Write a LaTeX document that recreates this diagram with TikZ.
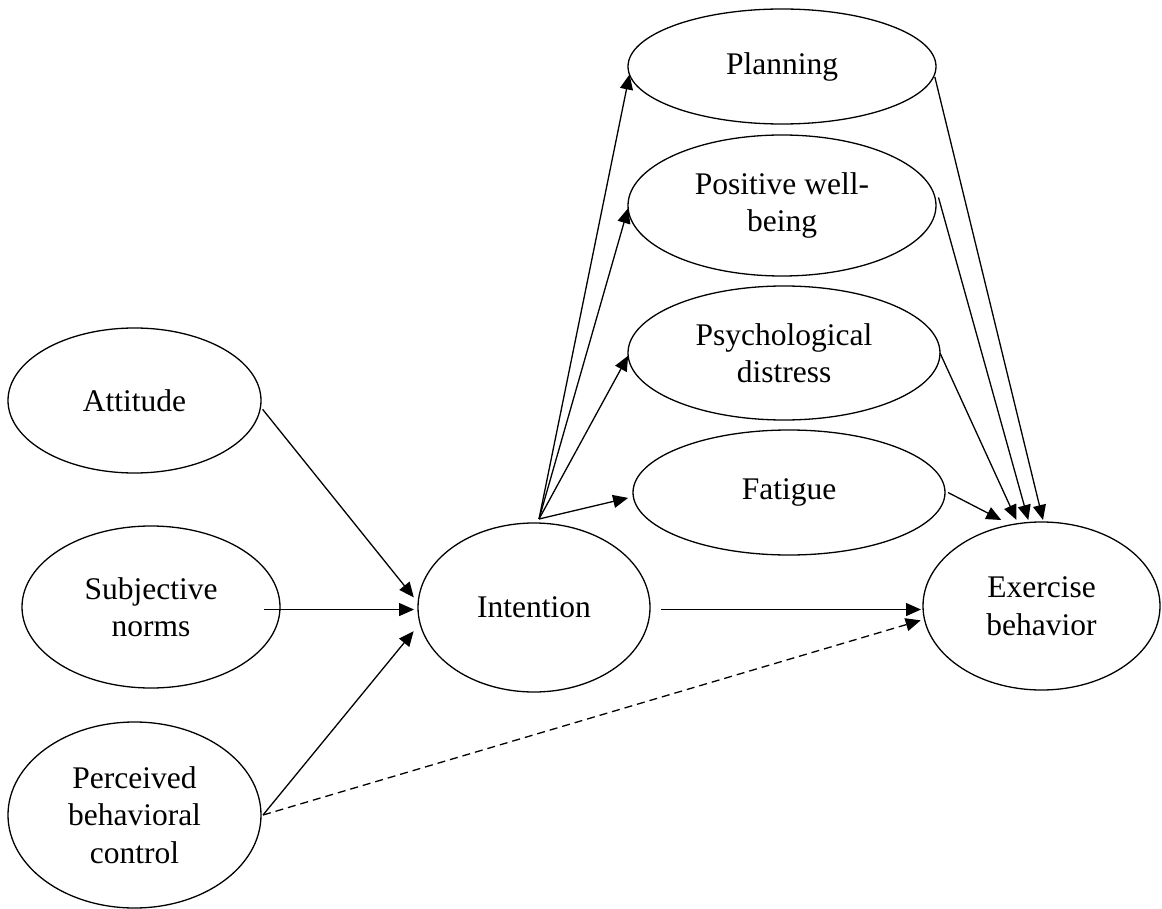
\documentclass[tikz,border=0pt]{standalone}
\usepackage{fontspec}
\setmainfont{Liberation Serif}
\usetikzlibrary{arrows.meta,shapes.geometric,calc}
\begin{document}
\begin{tikzpicture}[x=1pt,y=-1pt,
  oval/.style={draw,ellipse,line width=1.3pt,inner sep=0pt,outer sep=0pt,align=center,
    font=\fontsize{31.5}{37.5}\selectfont},
  conn/.style={line width=1.3pt,-{Triangle[length=15pt,width=13pt]}},
  dconn/.style={conn,dash pattern=on 8pt off 5pt}]
\useasboundingbox (0,0) rectangle (1162,909);
% nodes
\node[oval,minimum width=308pt,minimum height=115pt] (pl) at (782,66.5) {Planning};
\node[oval,minimum width=308pt,minimum height=141pt] (pwb) at (782,205.5) {Positive well-\\being};
\node[oval,minimum width=312pt,minimum height=134pt] (psy) at (784,353) {Psychological\\distress};
\node[oval,minimum width=312pt,minimum height=125pt] (fat) at (789,492.5) {Fatigue};
\node[oval,minimum width=253pt,minimum height=145pt] (att) at (134.5,400.5) {Attitude};
\node[oval,minimum width=258pt,minimum height=162pt] (sub) at (151,607) {Subjective\\norms};
\node[oval,minimum width=253pt,minimum height=186pt] (pbc) at (134.5,815) {Perceived\\behavioral\\control};
\node[oval,minimum width=232pt,minimum height=169pt] (int) at (534,607.5) {Intention};
\node[oval,minimum width=237pt,minimum height=168pt] (ex) at (1041.5,606) {Exercise\\behavior};
% fan from intention
\coordinate (fan) at ([xshift=5pt,yshift=4pt]int.north);
\draw[conn] (fan) -- (pl.183.2);
\draw[conn] (fan) -- (pwb.181.7);
\draw[conn] (fan) -- (psy.181.8);
\draw[conn] (fan) -- ([xshift=-5.5pt]fat.182);
% mediators to exercise
\draw[conn] ([xshift=1.5pt]pl.-4) -- ([xshift=1.5pt,yshift=2pt]ex.north);
\draw[conn] ([xshift=3.5pt]pwb.3.9) -- ([yshift=2.5pt]ex.99.2);
\draw[conn] (psy.east) -- ([yshift=4pt]ex.107.9);
\draw[conn] ([xshift=3pt]fat.east) -- ([yshift=7pt]ex.117.8);
% predictors to intention
\draw[conn] ([xshift=2.5pt]att.-4.2) -- ([xshift=-5pt]int.175);
\coordinate (t2) at ([xshift=-4pt]int.181.7);
\coordinate (s1) at ([xshift=-16pt]sub.east);
\draw[conn] (s1 |- t2) -- (t2);
\draw[conn] ([xshift=2pt]pbc.east) -- ([xshift=-9pt]int.192.4);
\draw[dconn] ([xshift=2pt]pbc.east) -- ([xshift=-4pt]ex.187.8);
% intention to exercise
\coordinate (ie) at ([xshift=11pt]int.-1.7);
\coordinate (e1) at ([xshift=-2pt]ex.west);
\draw[conn] (ie) -- (e1 |- ie);
\end{tikzpicture}
\end{document}
